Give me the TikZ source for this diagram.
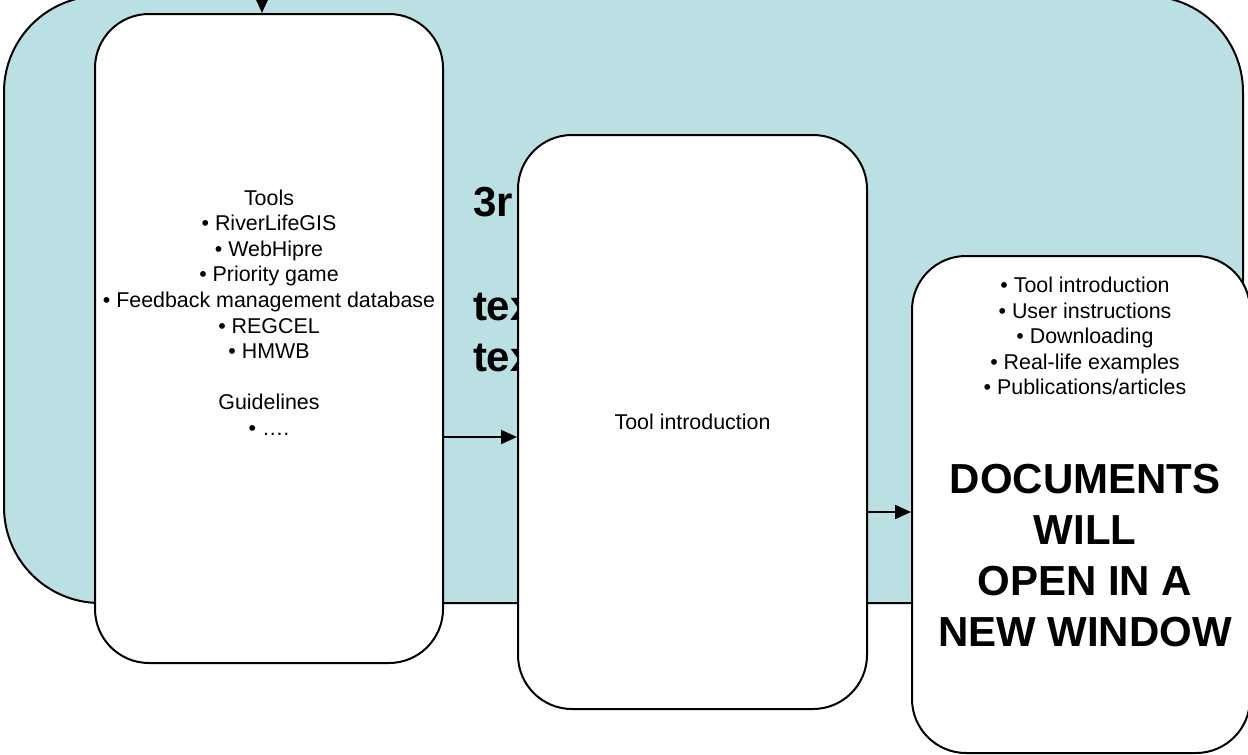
\documentclass[tikz,border=0pt]{standalone}
\usepackage{fontspec}
\setmainfont{Liberation Sans}
\usetikzlibrary{arrows.meta}
\definecolor{tealfill}{RGB}{187,224,227}
\begin{document}
\begin{tikzpicture}[x=0.5pt,y=-0.5pt, line width=1pt,
  box/.style={draw=black, fill=white, rounded corners=27pt, inner sep=0pt},
  arr/.style={-{Triangle[length=8pt,width=7pt]}},
  small/.style={font=\fontsize{10.7pt}{12.8pt}\selectfont, align=center, inner sep=0pt},
  big/.style={font=\fontsize{21pt}{25.5pt}\selectfont\bfseries, align=center, inner sep=0pt}]
\useasboundingbox (0,0) rectangle (1248,755);
\clip (0,0) rectangle (1248,755);
% background panel
\draw[fill=tealfill, rounded corners=48pt] (4,-4) rectangle (1243,603);
% partly hidden heading text
\node[big, anchor=west] (h1) at (472,202) {3r};
\node[big, anchor=west] (h2) at (472,307) {tex};
\node[big, anchor=west] (h3) at (472,358) {tex};
% boxes
\node[box, minimum width=174pt, minimum height=324.5pt] (tools) at (269,338.5) {};
\node[box, minimum width=174.5pt, minimum height=287pt, small] (middle) at (692.5,422) {Tool introduction};
\node[box, minimum width=169pt, minimum height=248.5pt] (right) at (1081,504.5) {};
% texts
\node[small] (toolstext) at (269,312.5) {Tools\\ • RiverLifeGIS\\ • WebHipre\\ • Priority game\\ • Feedback management database\\ • REGCEL\\ • HMWB\\[12.8pt] Guidelines\\ • ….};
\node[small] (doclist) at (1085,336) {• Tool introduction\\ • User instructions\\ • Downloading\\ • Real-life examples\\ • Publications/articles};
\node[big] (docnote) at (1085,556) {DOCUMENTS\\ WILL\\ OPEN IN A\\ NEW WINDOW};
% connectors
\coordinate (topin) at (262,-40);
\coordinate (a1) at (0,437);
\coordinate (a2) at (0,512);
\draw[arr] (topin) -- (topin |- tools.north);
\draw[arr] (tools.east |- a1) -- (middle.west |- a1);
\draw[arr] (middle.east |- a2) -- (right.west |- a2);
\end{tikzpicture}
\end{document}
